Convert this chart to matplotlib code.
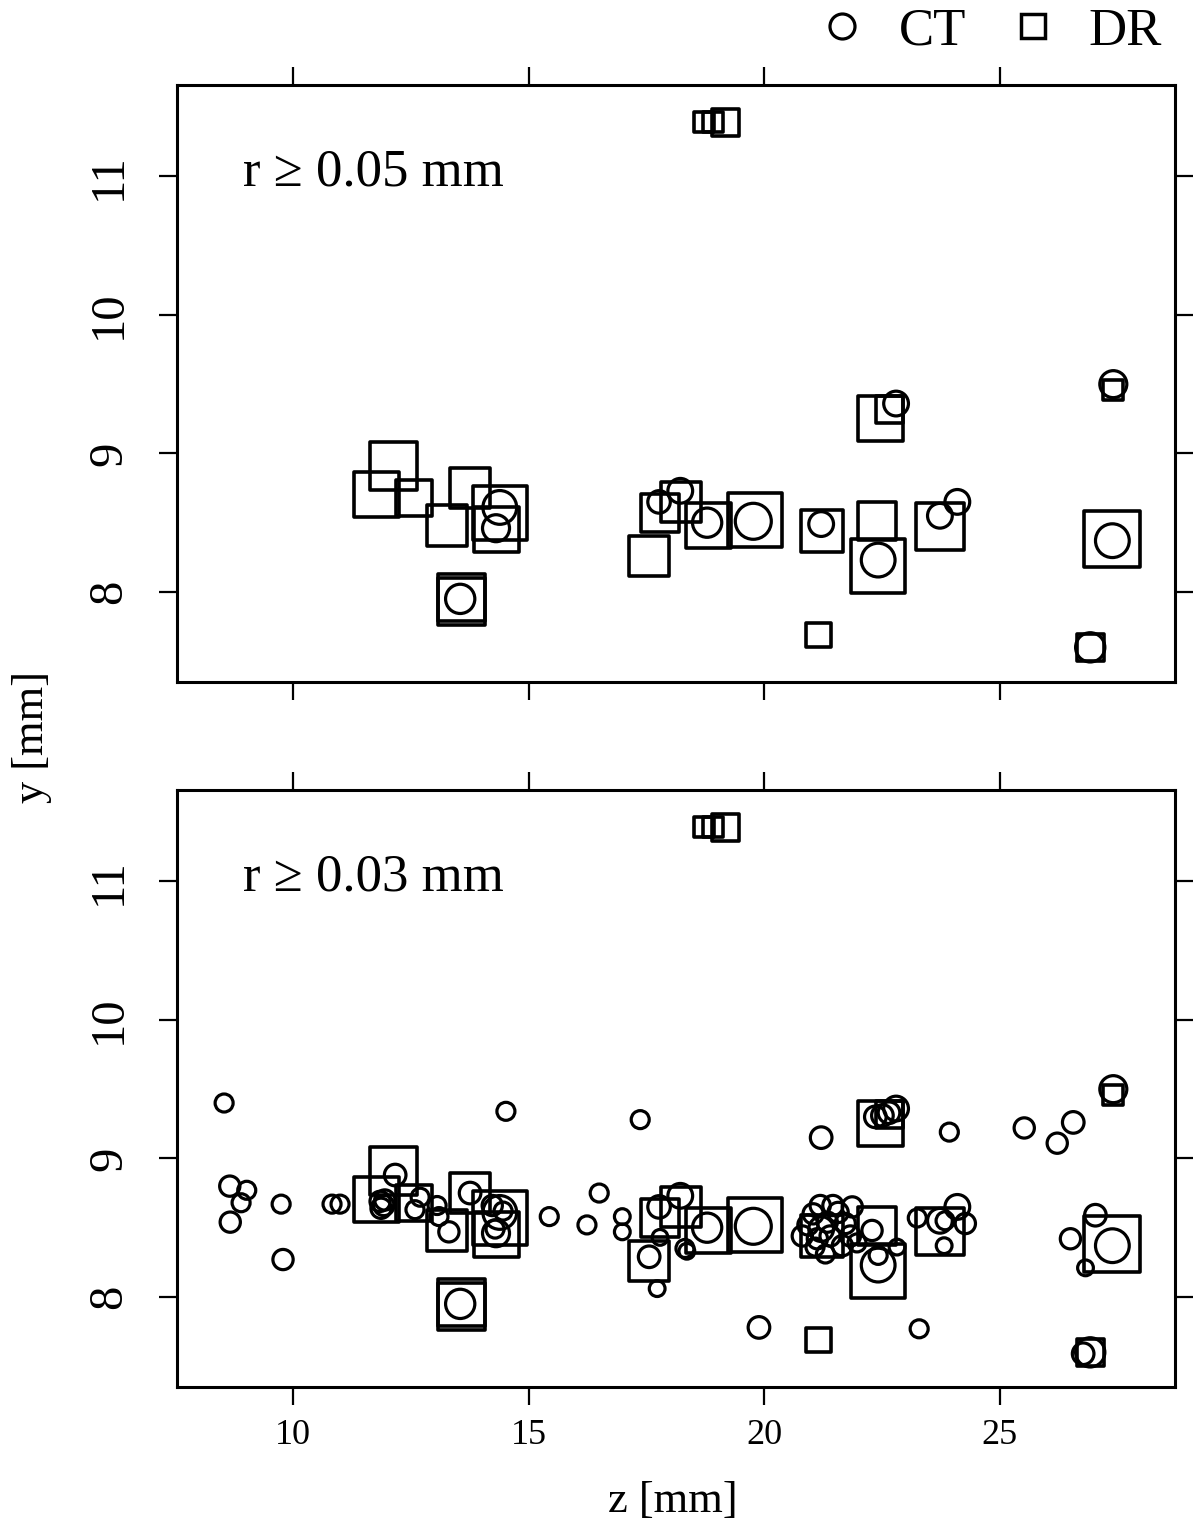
"""CT vs DR defect positions, two radius thresholds."""
import matplotlib
matplotlib.use("Agg")
import matplotlib.pyplot as plt
import numpy as np
from matplotlib.lines import Line2D

plt.rcParams["font.family"] = ["Liberation Serif", "DejaVu Serif"]

# DR detections: z [mm], y [mm], r [mm]
dr_z = [12.14, 11.78, 12.57, 13.27, 13.76, 14.39, 14.31, 13.57, 13.57,
        22.48, 22.65, 17.79, 18.24, 17.56, 18.81, 19.81, 21.23, 22.40,
        22.42, 23.73, 21.15, 27.41, 27.39, 26.92, 18.73, 18.92, 19.19]
dr_y = [8.91, 8.70, 8.68, 8.48, 8.75, 8.57, 8.45, 7.96, 7.93,
        9.25, 9.32, 8.57, 8.65, 8.26, 8.48, 8.52, 8.44, 8.51,
        8.19, 8.47, 7.69, 9.46, 8.38, 7.60, 11.39, 11.39, 11.39]
dr_r = [0.105, 0.10, 0.08, 0.09, 0.09, 0.12, 0.10, 0.105, 0.105,
        0.10, 0.06, 0.085, 0.09, 0.09, 0.10, 0.12, 0.095, 0.085,
        0.12, 0.105, 0.055, 0.045, 0.125, 0.06, 0.045, 0.045, 0.06]

# CT detections with r >= 0.05 mm
ct_z = [14.39, 14.31, 13.55, 22.80, 17.77, 18.22, 18.79, 19.77, 21.21,
        22.42, 23.73, 24.10, 27.41, 27.39, 26.92]
ct_y = [8.61, 8.46, 7.95, 9.36, 8.65, 8.73, 8.50, 8.51, 8.49,
        8.23, 8.55, 8.65, 9.50, 8.37, 7.60]
ct_r = [0.075, 0.06, 0.065, 0.055, 0.05, 0.055, 0.065, 0.08, 0.055,
        0.075, 0.055, 0.055, 0.06, 0.075, 0.065]

# CT detections with 0.03 <= r < 0.05 mm
ct_small_z = [8.54, 14.52, 8.66, 9.02, 8.90, 8.67, 9.75, 9.79, 10.83, 11.00,
              11.85, 11.93, 11.87, 11.95, 12.17, 12.70, 12.59, 13.06, 13.10,
              13.31, 13.76, 14.23, 14.46, 14.29, 15.44, 17.37, 21.21, 23.93,
              22.36, 22.51, 22.65, 16.50, 16.24, 16.99, 16.99, 17.56, 17.73,
              17.79, 18.32, 18.36, 19.89, 23.29,
              21.04, 20.93, 20.81, 21.13, 21.34, 21.40, 21.57, 21.72, 21.87,
              21.83, 21.97, 21.30, 21.08, 21.66, 21.46, 21.19,
              22.29, 22.42, 22.82, 23.25, 23.84, 24.27, 23.82,
              25.52, 26.22, 26.56, 26.50, 27.03, 26.82, 26.77]
ct_small_y = [9.40, 9.34, 8.80, 8.77, 8.68, 8.54, 8.67, 8.27, 8.67, 8.67,
              8.69, 8.66, 8.64, 8.70, 8.88, 8.72, 8.63, 8.66, 8.58,
              8.47, 8.75, 8.66, 8.62, 8.49, 8.58, 9.28, 9.15, 9.19,
              9.30, 9.31, 9.33, 8.75, 8.52, 8.58, 8.47, 8.29, 8.06,
              8.43, 8.35, 8.33, 7.78, 7.77,
              8.60, 8.52, 8.44, 8.42, 8.54, 8.44, 8.61, 8.53, 8.65,
              8.44, 8.39, 8.31, 8.36, 8.37, 8.66, 8.66,
              8.48, 8.30, 8.36, 8.57, 8.55, 8.53, 8.37,
              9.22, 9.11, 9.26, 8.42, 8.59, 8.21, 7.59]
ct_small_r = [0.04, 0.04, 0.045, 0.04, 0.04, 0.045, 0.04, 0.045, 0.04, 0.04,
              0.045, 0.045, 0.045, 0.045, 0.048, 0.04, 0.04, 0.04, 0.04,
              0.045, 0.048, 0.045, 0.04, 0.04, 0.04, 0.04, 0.048, 0.04,
              0.048, 0.048, 0.048, 0.04, 0.04, 0.035, 0.035, 0.048, 0.035,
              0.035, 0.04, 0.035, 0.048, 0.04,
              0.045, 0.045, 0.045, 0.045, 0.045, 0.045, 0.045, 0.045, 0.045,
              0.045, 0.04, 0.04, 0.04, 0.045, 0.045, 0.045,
              0.045, 0.04, 0.035, 0.04, 0.04, 0.045, 0.035,
              0.045, 0.045, 0.048, 0.045, 0.048, 0.035, 0.048]

panel_labels = ["r \u2265 0.05 mm", "r \u2265 0.03 mm"]
x_ticks = [10, 15, 20, 25]
y_ticks = [8, 9, 10, 11]

XLIM = (7.54, 28.72)
YLIM = (7.35, 11.66)
R_TO_PT = 324.0  # marker diameter in points per mm of radius
FIG_W, FIG_H, DPI = 12, 15.25, 100


def _sizes(r):
    return (R_TO_PT * np.asarray(r)) ** 2


def draw_panel(ax, cz, cy, cr, label, show_xlabels):
    ax.scatter(dr_z, dr_y, s=_sizes(dr_r), marker="s", facecolors="none",
               edgecolors="black", linewidths=2.6, zorder=3)
    ax.scatter(cz, cy, s=_sizes(cr), marker="o", facecolors="none",
               edgecolors="black", linewidths=2.3, zorder=4)
    ax.set_xlim(*XLIM)
    ax.set_ylim(*YLIM)
    ax.set_xticks(x_ticks)
    ax.set_yticks(y_ticks)
    for side in ax.spines.values():
        side.set_linewidth(2.2)
    ax.tick_params(axis="both", direction="out", length=13, width=1.6,
                   top=True, right=True, bottom=True, left=True)
    ax.tick_params(axis="x", labelbottom=show_xlabels, labeltop=False,
                   labelsize=26, pad=10)
    ax.tick_params(axis="y", labelleft=True, labelright=False,
                   labelsize=35, pad=20, labelrotation=90)
    for t in ax.get_yticklabels():
        t.set_va("center")
    ax.text(0.066, 0.854, label, transform=ax.transAxes, ha="left",
            va="center", fontsize=38)


fig = plt.figure(figsize=(FIG_W, FIG_H), dpi=DPI)
ax_top = fig.add_axes([0.1475, 0.5528, 0.8317, 0.3915])
ax_bot = fig.add_axes([0.1475, 0.0905, 0.8317, 0.3915])

draw_panel(ax_top, ct_z, ct_y, ct_r, panel_labels[0], False)
draw_panel(ax_bot, ct_z + ct_small_z, ct_y + ct_small_y, ct_r + ct_small_r,
           panel_labels[1], True)

fig.text(0.561, 0.016, "z [mm]", ha="center", va="center", fontsize=32)
fig.text(0.027, 0.517, "y [mm]", ha="center", va="center", fontsize=32,
         rotation=90)

handles = [
    Line2D([], [], marker="o", ls="none", mfc="none", mec="black", ms=18, mew=2.3),
    Line2D([], [], marker="s", ls="none", mfc="none", mec="black", ms=17, mew=2.5),
]
fig.legend(handles, ["CT", "DR"], ncol=2, loc="upper right",
           bbox_to_anchor=(1.008, 1.026), frameon=False, fontsize=38,
           handlelength=1.0, handletextpad=0.56, columnspacing=0.77)

fig.savefig("out.png", dpi=DPI)
plt.close(fig)
print("Saved: out.png")
